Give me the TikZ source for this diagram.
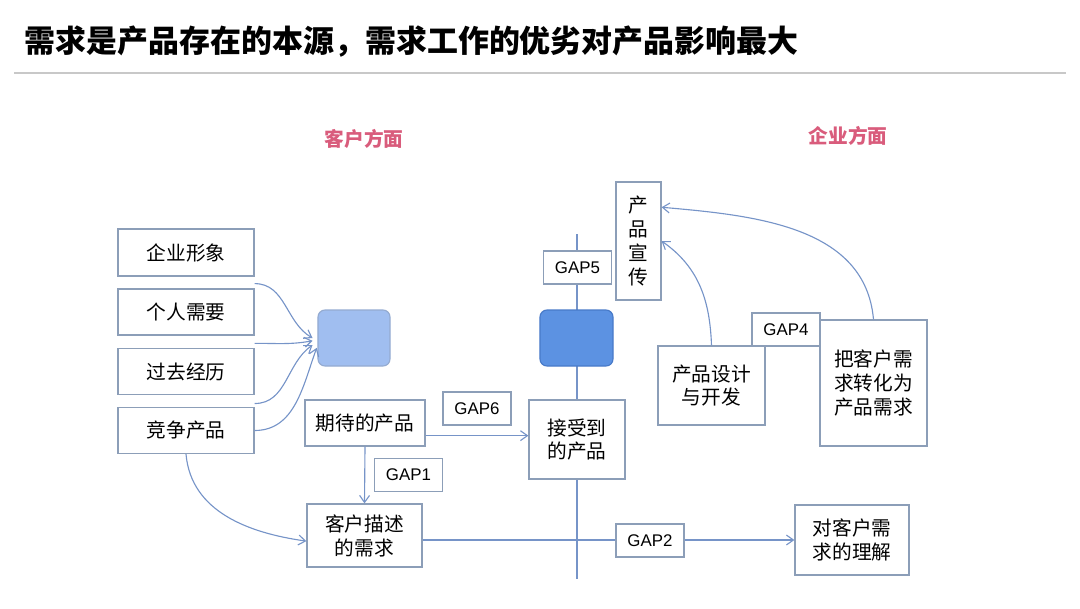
\documentclass[tikz,border=0pt]{standalone}
\usepackage{fontspec}
\setmainfont{Noto Sans CJK SC}
\newfontfamily\gapfont{Liberation Sans}
\usetikzlibrary{arrows.meta}
\definecolor{boxline}{RGB}{140,158,184}
\definecolor{arr}{RGB}{118,148,200}
\definecolor{lightfill}{RGB}{160,190,240}
\definecolor{darkfill}{RGB}{92,146,226}
\definecolor{darkline}{RGB}{72,122,200}
\definecolor{headred}{RGB}{217,92,124}
\begin{document}
\begin{tikzpicture}[x=0.025cm,y=-0.025cm,>={Straight Barb[length=5pt,width=7pt]},
  box/.style={draw=boxline,line width=0.8pt,fill=white,inner sep=0pt,align=center,font=\fontsize{14}{17}\selectfont},
  gap/.style={box,minimum width=1.7cm,minimum height=0.825cm,font=\gapfont\fontsize{12}{14}\selectfont},
  blob/.style={rounded corners=5pt,line width=0.8pt,minimum width=1.8cm,minimum height=1.4cm},
  link/.style={draw=arr,line width=0.8pt},
  head/.style={text=headred,font=\bfseries\fontsize{14}{17}\selectfont}]
\useasboundingbox (0,0) rectangle (1080,608);
% title
\node[anchor=west,font=\bfseries\fontsize{22}{26}\selectfont] (title) at (20,42) {需求是产品存在的本源，需求工作的优劣对产品影响最大};
\draw[draw={rgb,255:red,200;green,200;blue,200},line width=1.2pt] (14,73) coordinate (ruleA) -- (1066,73) coordinate (ruleB);
\node[head] (kehu) at (364,139) {客户方面};
\node[head] (qiye2) at (848,136) {企业方面};
% axis
\coordinate (vtop) at (577,234);
\coordinate (vbot) at (577,579);
\draw[link] (vtop) -- (vbot);
% customer side
\node[box,minimum width=3.4cm,minimum height=1.175cm] (qiye) at (186,252.5) {企业形象};
\node[box,minimum width=3.4cm,minimum height=1.15cm] (geren) at (186,312) {个人需要};
\node[box,minimum width=3.4cm,minimum height=1.15cm] (guoqu) at (186,371.5) {过去经历};
\node[box,minimum width=3.4cm,minimum height=1.15cm] (jingzheng) at (186,430.5) {竞争产品};
\node[blob,draw=lightfill!85!black!90,fill=lightfill] (lb) at (354,338) {};
\node[box,minimum width=3cm,minimum height=1.15cm] (qidai) at (365,423) {期待的产品};
\node[gap] (gap1) at (408.5,475) {GAP1};
\node[box,minimum width=2.875cm,minimum height=1.575cm] (miaoshu) at (364.5,535.5) {客户描述\\的需求};
% company side
\node[blob,draw=darkline,fill=darkfill,minimum width=1.825cm] (db) at (576.5,338) {};
\node[box,minimum width=1.125cm,minimum height=2.95cm] (xuanchuan) at (638.5,241) {产\\品\\宣\\传};
\node[gap] (gap5) at (577.5,267.5) {GAP5};
\node[gap] (gap6) at (477,408.5) {GAP6};
\node[box,minimum width=2.4cm,minimum height=1.975cm] (jieshou) at (577,439.5) {接受到\\的产品};
\node[gap] (gap4) at (786,329.5) {GAP4};
\node[box,minimum width=2.675cm,minimum height=1.975cm] (sheji) at (711.5,385.5) {产品设计\\与开发};
\node[box,minimum width=2.675cm,minimum height=3.15cm] (zhuanhua) at (873.5,383) {把客户需\\求转化为\\产品需求};
\node[box,minimum width=2.85cm,minimum height=1.75cm] (lijie) at (852,540) {对客户需\\求的理解};
% connectors
\draw[link,->] ([yshift=-5pt]qiye.south east) to[out=0,in=150] ([xshift=-3.5pt]lb.west);
\draw[link,->] ([yshift=-5.5pt]geren.south east) to[out=0,in=190] ([shift={(-3.5pt,-2pt)}]lb.west);
\draw[link,->] ([yshift=-6pt]guoqu.south east) to[out=0,in=-145] ([shift={(-3.5pt,-5pt)}]lb.west);
\draw[link,->] (jingzheng.east) to[out=0,in=-110] ([shift={(-0.5pt,-7pt)}]lb.west);
\draw[link,->] (jingzheng.south) to[out=-85,in=172] ([yshift=-4pt]miaoshu.west);
\draw[link,->] (qidai.south) -- (miaoshu.north);
\draw[link,->] ([yshift=-9pt]qidai.east) -- ([yshift=-9pt]qidai.east -| jieshou.west);
\draw[link,->] (miaoshu.east |- lijie.west) -- (lijie.west);
\node[gap] (gap2) at (650,540.5) {GAP2};
\draw[link,->] (sheji.north) to[out=92,in=-35] (xuanchuan.east);
\draw[link,->] (zhuanhua.north) to[out=95,in=-5] ([yshift=24pt]xuanchuan.east);
\end{tikzpicture}
\end{document}
